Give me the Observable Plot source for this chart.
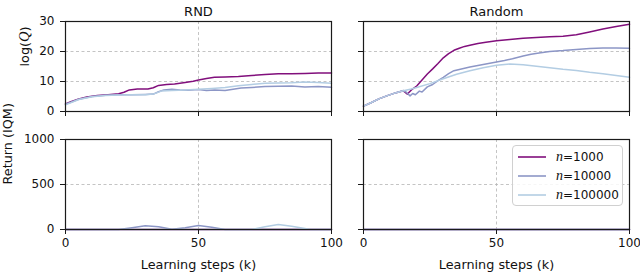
<!DOCTYPE html>
<html><head><meta charset="utf-8">
<script src="https://cdn.jsdelivr.net/npm/d3@7"></script>
<script src="https://cdn.jsdelivr.net/npm/@observablehq/plot@0.6"></script>
<style>
body{margin:0;background:#fff;}
#chart{position:relative;width:640px;height:277px;font-family:"DejaVu Sans",sans-serif;overflow:hidden;}
.row{display:flex;}
.row svg{display:block;overflow:visible;}
#legend{position:absolute;left:512px;top:145px;width:109px;height:59px;border:1px solid #d0d0d0;border-radius:4px;background:rgba(255,255,255,0.85);font-size:12px;color:#111;}
#legend .item{position:absolute;left:0;height:18px;display:flex;align-items:center;}
#legend svg.sw{display:block;width:28px;height:6px;margin-left:5px;margin-right:10px;}
#legend i{font-family:"Liberation Serif",serif;font-size:14px;}
</style></head><body><div id="chart"></div>
<script>
// ---- categories / labels ----
const seriesNames = ["1000", "10000", "100000"];
const seriesColors = ["#810f7c", "#8c96c6", "#b3cde3"];
const panelTitles = ["RND", "Random"];
const xTicks = [0, 50, 100];
const qTicks = [0, 10, 20, 30];
const returnTicks = [0, 500, 1000];
const xLabel = "Learning steps (k)";
const qLabel = "log(Q)";
const returnLabel = "Return (IQM)";

// ---- log(Q), RND ----
const rndQ_1000 = [[0,2.5],[2,3.3],[5,4.2],[8,4.8],[12,5.3],[16,5.6],[20,5.9],[22,6.4],[24,7.2],[27,7.5],[31,7.5],[33,7.9],[35,8.7],[38,9.0],[41,9.2],[45,9.7],[48,10.1],[50,10.5],[53,11.0],[56,11.4],[60,11.5],[65,11.7],[70,12.0],[75,12.3],[80,12.6],[85,12.6],[90,12.7],[95,12.8],[100,12.8]];
const rndQ_10000 = [[0,2.4],[5,4.1],[10,5.0],[15,5.4],[20,5.6],[25,5.6],[30,5.7],[33,5.8],[35,6.6],[37,7.2],[40,7.4],[43,7.2],[46,7.1],[50,7.3],[53,7.0],[56,7.2],[60,7.0],[63,7.4],[66,7.8],[70,8.0],[75,8.3],[80,8.4],[85,8.5],[90,8.2],[95,8.3],[100,8.1]];
const rndQ_100000 = [[0,2.2],[5,4.0],[10,4.9],[15,5.3],[20,5.5],[25,5.6],[30,5.6],[33,5.8],[36,6.8],[40,7.0],[45,7.2],[50,7.4],[55,7.7],[60,8.0],[65,8.6],[70,9.0],[75,9.4],[80,9.5],[85,9.6],[90,9.8],[95,9.7],[100,9.4]];

// ---- log(Q), Random ----
const randQ_1000 = [[0,1.8],[3,3.0],[6,4.3],[9,5.3],[12,6.2],[15,6.9],[16.5,5.8],[18,7.2],[20,8.5],[22,10.5],[24,12.5],[26,14.2],[28,16.0],[30,17.9],[32,19.3],[34,20.4],[36,21.1],[38,21.7],[40,22.1],[43,22.7],[46,23.1],[50,23.6],[55,24.0],[60,24.4],[65,24.7],[70,24.9],[75,25.1],[80,25.6],[85,26.5],[90,27.5],[95,28.3],[100,29.1]];
const randQ_10000 = [[0,1.8],[3,3.0],[6,4.3],[9,5.3],[12,6.2],[15,7.0],[16,6.5],[17.5,5.2],[18.5,6.0],[19.5,5.6],[21,6.8],[22,6.5],[24,8.2],[26,9.0],[28,10.3],[30,11.4],[32,12.6],[34,13.6],[36,14.0],[38,14.4],[40,14.8],[43,15.3],[46,15.8],[50,16.5],[53,17.0],[56,17.6],[60,18.5],[63,19.1],[66,19.5],[70,20.0],[75,20.3],[80,20.7],[85,21.0],[90,21.2],[95,21.2],[100,21.1]];
const randQ_100000 = [[0,1.8],[3,3.0],[6,4.3],[9,5.3],[12,6.2],[15,6.9],[18,7.5],[20,8.0],[25,9.3],[30,10.9],[35,12.4],[40,13.6],[45,14.6],[50,15.4],[55,15.8],[60,15.6],[65,15.1],[70,14.6],[75,14.1],[80,13.7],[85,13.1],[90,12.6],[95,12.0],[100,11.4]];

// ---- Return (IQM), RND ----
const rndR_1000 = [[0,0],[100,0]];
const rndR_10000 = [[0,0],[20,0],[25,20],[30,42],[35,30],[40,4],[45,20],[50,45],[55,25],[60,0],[100,0]];
const rndR_100000 = [[0,0],[70,0],[75,30],[80,55],[85,35],[90,10],[92,0],[100,0]];

// ---- Return (IQM), Random ----
const randR_1000 = [[0,0],[100,0]];
const randR_10000 = [[0,0],[100,0]];
const randR_100000 = [[0,0],[100,0]];

function rows(lists) {
  return lists.flatMap((pts, i) => pts.map(([k, v]) => ({series: seriesNames[i], k, v})));
}

const FONT = "DejaVu Sans";

function panel({data, yDomain, yTicks, width, height, mL, mR, mT, mB, yLabels, yLabel, yLabelDx, xLabels, title}) {
  const marks = [
    Plot.gridX(xTicks.filter(d => d > 0 && d < 100), {stroke: "#b5b5b5", strokeDasharray: "3,2.5", strokeOpacity: 1, strokeWidth: 0.8}),
    Plot.gridY(yTicks.filter(d => d > yDomain[0] && d < yDomain[1]), {stroke: "#b5b5b5", strokeDasharray: "3,2.5", strokeOpacity: 1, strokeWidth: 0.8}),
    Plot.line(data, {x: "k", y: "v", stroke: "series", z: "series", strokeWidth: 1.5}),
    Plot.frame({stroke: "#1a1a1a", strokeWidth: 1.2}),
    Plot.axisX(xTicks, {tickSize: 5, tickPadding: 4, fontSize: 12, tickFormat: xLabels ? d => String(d) : () => "", label: null, stroke: "#1a1a1a"}),
    Plot.axisY(yTicks, {tickSize: 5, tickPadding: 6, fontSize: 12, tickFormat: yLabels ? d => String(d) : () => "", label: null, stroke: "#1a1a1a"})
  ];
  if (title) marks.push(Plot.text([title], {frameAnchor: "top", dy: -15, fontSize: 13, fill: "#111"}));
  if (yLabel) marks.push(Plot.text([yLabel], {frameAnchor: "left", rotate: -90, dx: yLabelDx, fontSize: 12.8, fill: "#111"}));
  if (xLabels) marks.push(Plot.text([xLabel], {frameAnchor: "bottom", dy: 39, fontSize: 12.8, fill: "#111"}));
  return Plot.plot({
    width, height,
    marginLeft: mL, marginRight: mR, marginTop: mT, marginBottom: mB,
    style: {fontFamily: FONT, background: "transparent", color: "#111", overflow: "visible"},
    x: {domain: [0, 100]},
    y: {domain: yDomain},
    color: {domain: seriesNames, range: seriesColors},
    marks
  });
}

const chart = document.getElementById("chart");
const rowTop = document.createElement("div"); rowTop.className = "row";
const rowBot = document.createElement("div"); rowBot.className = "row";
chart.append(rowTop, rowBot);

rowTop.append(
  panel({data: rows([rndQ_1000, rndQ_10000, rndQ_100000]), yDomain: [0, 30], yTicks: qTicks, width: 347, height: 118, mL: 65, mR: 16, mT: 21, mB: 7, yLabels: true, yLabel: qLabel, yLabelDx: -41, xLabels: false, title: panelTitles[0]}),
  panel({data: rows([randQ_1000, randQ_10000, randQ_100000]), yDomain: [0, 30], yTicks: qTicks, width: 293, height: 118, mL: 16, mR: 11, mT: 21, mB: 7, yLabels: false, xLabels: false, title: panelTitles[1]})
);
rowBot.append(
  panel({data: rows([rndR_1000, rndR_10000, rndR_100000]), yDomain: [0, 1000], yTicks: returnTicks, width: 347, height: 159, mL: 65, mR: 16, mT: 21, mB: 48, yLabels: true, yLabel: returnLabel, yLabelDx: -58, xLabels: true}),
  panel({data: rows([randR_1000, randR_10000, randR_100000]), yDomain: [0, 1000], yTicks: returnTicks, width: 293, height: 159, mL: 16, mR: 11, mT: 21, mB: 48, yLabels: false, xLabels: true})
);

const ns = "http://www.w3.org/2000/svg";
// italic math Q in the y label
chart.querySelectorAll("text").forEach(t => {
  if (t.textContent === qLabel) {
    t.textContent = "";
    const a = document.createElementNS(ns, "tspan"); a.textContent = "log(";
    const q = document.createElementNS(ns, "tspan"); q.textContent = "Q";
    q.setAttribute("font-style", "italic"); q.setAttribute("font-family", "Liberation Serif"); q.setAttribute("font-size", "14.5");
    const c = document.createElementNS(ns, "tspan"); c.textContent = ")";
    t.append(a, q, c);
  }
});

// legend
const legend = document.createElement("div"); legend.id = "legend";
seriesNames.forEach((name, i) => {
  const item = document.createElement("div"); item.className = "item";
  item.style.top = (2 + i * 18.8) + "px";
  const sw = document.createElementNS(ns, "svg"); sw.setAttribute("class", "sw");
  sw.setAttribute("width", "28"); sw.setAttribute("height", "6");
  const ln = document.createElementNS(ns, "line");
  ln.setAttribute("x1", "0"); ln.setAttribute("x2", "28"); ln.setAttribute("y1", "3"); ln.setAttribute("y2", "3");
  ln.setAttribute("stroke", seriesColors[i]); ln.setAttribute("stroke-width", "1.6");
  sw.append(ln);
  const lab = document.createElement("span");
  const n = document.createElement("i"); n.textContent = "n";
  lab.append(n, document.createTextNode("=" + name));
  item.append(sw, lab);
  legend.append(item);
});
chart.append(legend);
</script></body></html>
